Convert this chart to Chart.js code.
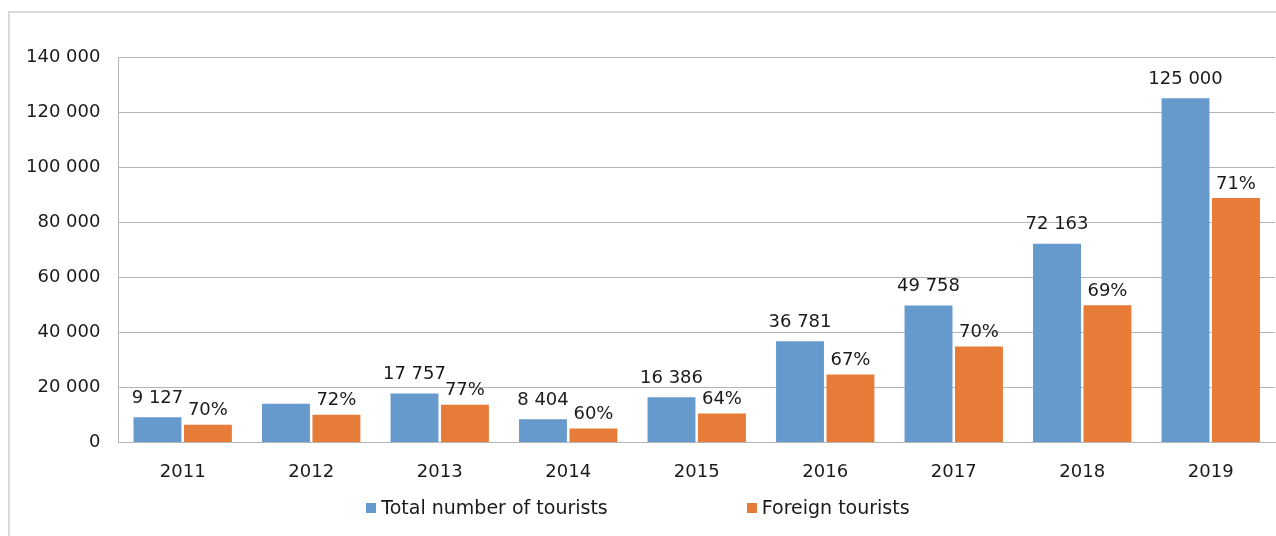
<!DOCTYPE html>
<html>
<head>
<meta charset="utf-8">
<script src="https://cdn.jsdelivr.net/npm/chart.js@4/dist/chart.umd.min.js"></script>
<style>
    body { margin: 0; background: #fff; font-family: "DejaVu Sans", Verdana, sans-serif; }
    #wrap { position: relative; width: 1276px; height: 536px; overflow: hidden; }
    #frame { position: absolute; left: 8px; top: 11px; width: 1300px; height: 600px; border: 2px solid #d9d9d9; }
    #chart { position: absolute; left: 0; top: 0; }
    #legend { position: absolute; left: 0; top: 496px; width: 1276px; display: flex; justify-content: center; gap: 139px; font-size: 19px; color: #1a1a1a; }
    #legend span.box { display: inline-block; width: 10px; height: 10px; margin-right: 5px; vertical-align: 1px; }
</style>
</head>
<body>
<div id="wrap">
    <div id="frame"></div>
    <canvas id="chart" width="1276" height="536"></canvas>
    <div id="legend"></div>
</div>
<script>
// Chart data
const years = ['2011', '2012', '2013', '2014', '2015', '2016', '2017', '2018', '2019'];
const totalTourists = [9127, 14000, 17757, 8404, 16386, 36781, 49758, 72163, 125000];
const foreignTourists = [6390, 10080, 13670, 5040, 10490, 24640, 34830, 49790, 88750];
const totalLabels = ['9 127', '', '17 757', '8 404', '16 386', '36 781', '49 758', '72 163', '125 000'];
const foreignLabels = ['70%', '72%', '77%', '60%', '64%', '67%', '70%', '69%', '71%'];
const yTicks = [0, 20000, 40000, 60000, 80000, 100000, 120000, 140000];

const blue = '#669acd';
const orange = '#e67c37';
const fontFamily = '"DejaVu Sans", Verdana, sans-serif';

// Draws the value labels above each bar
const barLabels = {
    id: 'barLabels',
    afterDatasetsDraw(chart) {
        const ctx = chart.ctx;
        ctx.save();
        ctx.font = '18px ' + fontFamily;
        ctx.fillStyle = '#1a1a1a';
        ctx.textAlign = 'center';
        ctx.textBaseline = 'bottom';
        chart.data.datasets.forEach((ds, i) => {
            const meta = chart.getDatasetMeta(i);
            const offset = i === 0 ? 10 : 5;
            meta.data.forEach((bar, j) => {
                const text = ds.labelsText[j];
                if (text) ctx.fillText(text, bar.x, bar.y - offset);
            });
        });
        ctx.restore();
    }
};

const ctx = document.getElementById('chart').getContext('2d');
new Chart(ctx, {
    type: 'bar',
    data: {
        labels: years,
        datasets: [{
            label: 'Total number of tourists',
            data: totalTourists,
            labelsText: totalLabels,
            backgroundColor: blue,
            barPercentage: 0.95,
            categoryPercentage: 0.785
        }, {
            label: 'Foreign tourists',
            data: foreignTourists,
            labelsText: foreignLabels,
            backgroundColor: orange,
            barPercentage: 0.95,
            categoryPercentage: 0.785
        }]
    },
    options: {
        responsive: false,
        animation: false,
        layout: { padding: { left: 8, right: 1, top: 57, bottom: 34 } },
        plugins: {
            legend: { display: false },
            tooltip: { enabled: false }
        },
        scales: {
            x: {
                grid: { display: false, drawTicks: false },
                border: { display: true, color: '#b5b5b5', width: 1 },
                ticks: { color: '#1a1a1a', font: { family: fontFamily, size: 18 }, padding: 19 }
            },
            y: {
                min: 0,
                max: 140000,
                afterBuildTicks: (axis) => { axis.ticks = yTicks.map(v => ({ value: v })); },
                grid: { color: '#b5b5b5', drawTicks: false },
                border: { display: true, color: '#b5b5b5', width: 1 },
                ticks: {
                    color: '#1a1a1a',
                    font: { family: fontFamily, size: 18 },
                    padding: 18,
                    callback: (v) => v === 0 ? '0' : String(v).replace(/\B(?=(\d{3})+(?!\d))/g, ' ')
                }
            }
        }
    },
    plugins: [barLabels]
});

// Legend as plain HTML so the wide gap between items can be kept
const legend = document.getElementById('legend');
[['Total number of tourists', blue], ['Foreign tourists', orange]].forEach(([name, color]) => {
    const item = document.createElement('div');
    item.innerHTML = '<span class="box" style="background:' + color + '"></span>' + name;
    legend.appendChild(item);
});
</script>
</body>
</html>
